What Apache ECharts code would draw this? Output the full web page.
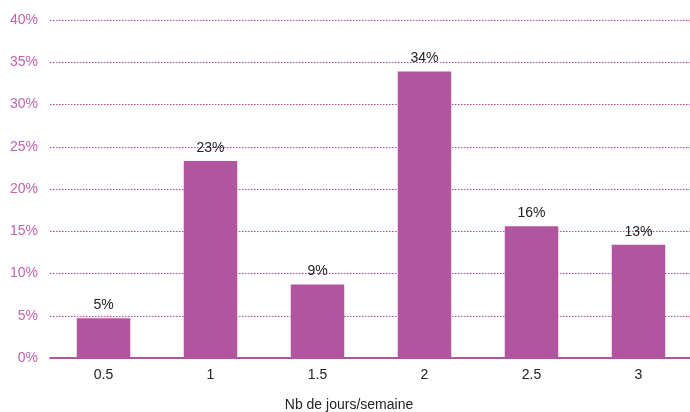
<!DOCTYPE html>
<html><head><meta charset="utf-8">
<script src="https://cdn.jsdelivr.net/npm/echarts@6/dist/echarts.min.js"></script>
<style>html,body{margin:0;padding:0;background:#fff}#c{width:690px;height:412px}</style>
</head><body><div id="c"></div>
<script>
const categories = ['0.5', '1', '1.5', '2', '2.5', '3'];
const values = [4.7, 23.3, 8.7, 33.9, 15.6, 13.4];
const yTicks = [0, 5, 10, 15, 20, 25, 30, 35, 40];
const xName = 'Nb de jours/semaine';

const chart = echarts.init(document.getElementById('c'));
chart.setOption({
  animation: false,
  textStyle: { fontFamily: 'Liberation Sans, Arial, sans-serif' },
  grid: { left: 50, width: 642, top: 20, bottom: 54, containLabel: false, outerBoundsMode: 'none' },
  xAxis: {
    type: 'category', data: categories,
    name: xName, nameLocation: 'middle', nameGap: 40,
    nameTextStyle: { color: '#222', fontSize: 14, padding: [0, 44, 0, 0] },
    axisLine: { lineStyle: { color: '#b0559e', width: 2 } },
    axisTick: { show: false },
    axisLabel: { color: '#222', fontSize: 14, margin: 10 }
  },
  yAxis: {
    type: 'value', min: 0, max: 40, interval: 5,
    axisLine: { show: false }, axisTick: { show: false },
    axisLabel: { color: '#c462ad', fontSize: 14, margin: 12, formatter: v => yTicks.includes(v) ? v + '%' : '' },
    splitLine: { lineStyle: { color: '#b545a0', type: [1.5, 1.5], width: 1 } }
  },
  series: [{
    type: 'bar', data: values, barWidth: '50%',
    itemStyle: { color: '#b0559e' },
    label: { show: true, position: 'top', distance: 6, color: '#222', fontSize: 14,
      formatter: p => Math.round(p.value) + '%' }
  }]
});
</script></body></html>
